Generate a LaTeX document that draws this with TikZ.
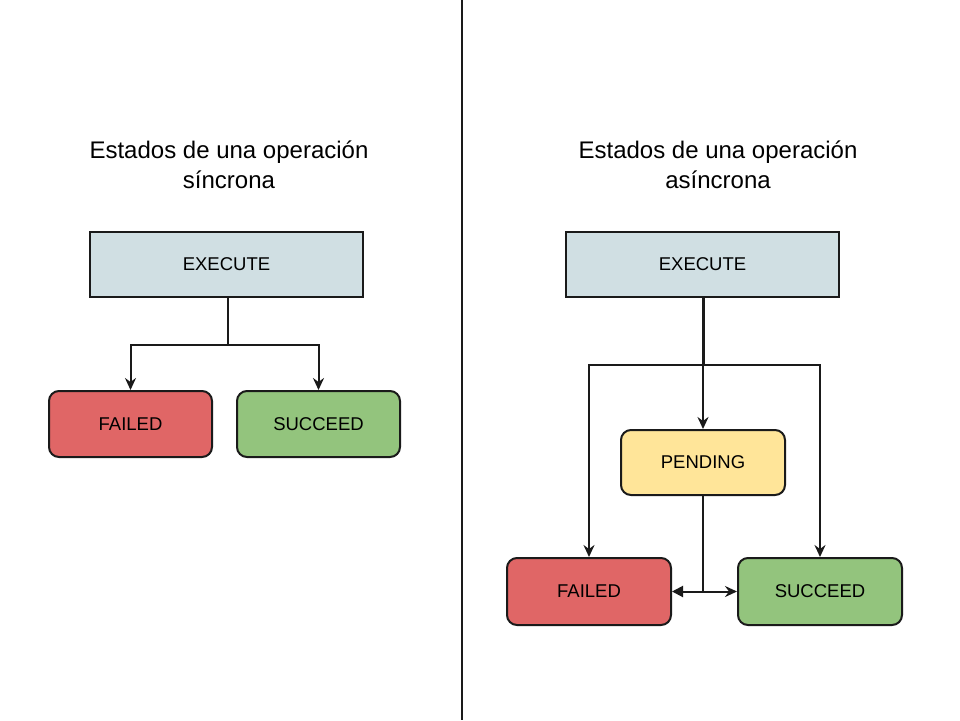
\documentclass[tikz,border=0pt]{standalone}
\usepackage{fontspec}
\setmainfont{Liberation Sans}
\usetikzlibrary{arrows.meta,calc}
\definecolor{execfill}{HTML}{D0DFE3}
\definecolor{failfill}{HTML}{E06666}
\definecolor{succfill}{HTML}{93C47D}
\definecolor{pendfill}{HTML}{FFE599}
\definecolor{linec}{HTML}{1A1A1A}
\tikzset{
  title/.style={align=center,font=\fontsize{24}{30}\selectfont,text=black},
  execbox/.style={draw=linec,line width=1.3pt,fill=execfill,minimum width=273pt,minimum height=65pt,font=\fontsize{18.5}{22}\selectfont,inner sep=0pt},
  statebox/.style={draw=linec,line width=2pt,rounded corners=10pt,minimum width=163pt,minimum height=66pt,font=\fontsize{18.5}{22}\selectfont,inner sep=0pt},
  conn/.style={draw=linec,line width=2pt},
  arr/.style={conn,-{Stealth[length=12pt,width=11pt,inset=4pt]}},
  farr/.style={conn,-{Triangle[length=11pt,width=11pt]}}
}
\newcommand{\lbl}[1]{\raisebox{-1.5pt}{#1}}
\begin{document}
\begin{tikzpicture}[x=1pt,y=-1pt]
\useasboundingbox (0,0) rectangle (960,720);
\fill[white] (0,0) rectangle (960,720);
\draw[draw=linec,line width=2pt] (462,0) coordinate (dtop) -- (462,720) coordinate (dbot);
% left
\node[title] (lt) at (229,165) {Estados de una operación\\síncrona};
\node[execbox] (le) at (226.5,264.5) {\lbl{EXECUTE}};
\node[statebox,fill=failfill] (lf) at (130.5,424) {\lbl{FAILED}};
\node[statebox,fill=succfill] (ls) at (318.5,424) {\lbl{SUCCEED}};
\draw[conn,line width=2.5pt] (le.south) ++(1.5,0) -- ++(0,47) coordinate (lj);
\draw[arr] (lj) -| (lf.north);
\draw[arr] (lj) -| (ls.north);
% right
\node[title] (rt) at (718,165) {Estados de una operación\\asíncrona};
\node[execbox] (re) at (702.5,264.5) {\lbl{EXECUTE}};
\node[statebox,fill=pendfill,minimum width=164pt,minimum height=65pt] (rp) at (703,462.5) {\lbl{PENDING}};
\node[statebox,fill=failfill,minimum width=164pt,minimum height=67pt] (rf) at (589,591.5) {\lbl{FAILED}};
\node[statebox,fill=succfill,minimum width=164pt,minimum height=67pt] (rs) at (820,591.5) {\lbl{SUCCEED}};
\draw[conn,line width=3pt] (re.south -| rp.north) -- ++(0,67) coordinate (rj);
\draw[arr] (rj) -- (rp.north);
\draw[arr] (rj) -| (rf.north);
\draw[arr] (rj) -| (rs.north);
\draw[conn] (rp.south) -- (rp.south |- rf.east) coordinate (rk);
\draw[farr] (rk) -- (rf.east);
\draw[arr] (rk) -- (rs.west);
\end{tikzpicture}
\end{document}
